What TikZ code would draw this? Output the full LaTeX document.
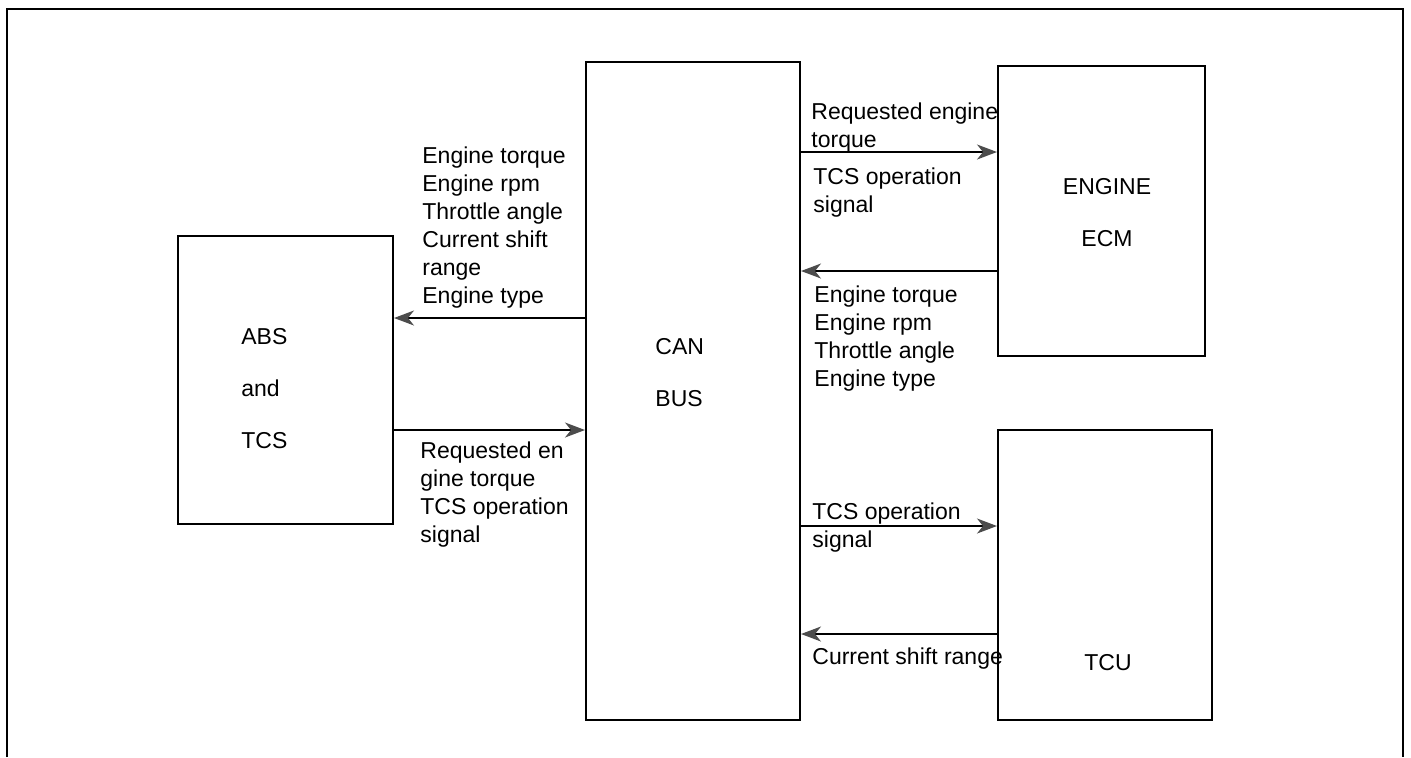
\documentclass[tikz,border=0pt]{standalone}
\usepackage{fontspec}
\setmainfont{Liberation Sans}
\usetikzlibrary{arrows.meta,positioning}
\tikzset{
  ecu/.style  = {rectangle, draw=black, line width=1pt, fill=white,
                 inner sep=0pt},
  sig/.style  = {-{Stealth[length=10pt,width=7.5pt,inset=3pt,color=black!70]},
                 draw=black, line width=0.7pt},
  lbl/.style  = {font=\fontsize{11.5}{14}\selectfont, align=left,
                 anchor=north west, inner sep=0pt},
  ttl/.style  = {font=\fontsize{11.5}{26}\selectfont, inner sep=0pt},
}
\begin{document}
\begin{tikzpicture}[x=0.5pt,y=-0.5pt]
  \useasboundingbox (0,0) rectangle (1411,757);
  % --- frame
  \draw[line width=1.3pt] (7,757) -- (7,9) -- (1403,9) -- (1403,757);

  % --- units
  \node[ecu, minimum width=107.5pt, minimum height=144pt] (abs) at (285.5,380) {};
  \node[ecu, minimum width=107pt, minimum height=329pt] (can) at (693,391) {};
  \node[ecu, minimum width=103.5pt, minimum height=145pt] (ecm) at (1101.5,211) {};
  \node[ecu, minimum width=107pt, minimum height=145pt] (tcu) at (1105,575) {};

  \node[ttl, align=left, anchor=north west] (absname) at (241,328) {ABS\\and\\TCS};
  \node[ttl, align=left, anchor=north west] (canname) at (655,338) {CAN\\BUS};
  \node[ttl, align=center, anchor=north] (ecmname) at (1107,178) {ENGINE\\ECM};
  \node[ttl, anchor=north] (tcuname) at (1108,654) {TCU};

  % --- signals
  \draw[sig] (can.west |- 0,318) -- (abs.east |- 0,318);
  \draw[sig] (abs.east |- 0,430) -- (can.west |- 0,430);
  \draw[sig] (can.east |- 0,152) -- (ecm.west |- 0,152);
  \draw[sig] (ecm.west |- 0,271) -- (can.east |- 0,271);
  \draw[sig] (can.east |- 0,526) -- (tcu.west |- 0,526);
  \draw[sig] (tcu.west |- 0,634) -- (can.east |- 0,634);

  % --- signal lists
  \node[lbl] (toabs) at (422,146)
    {Engine torque\\Engine rpm\\Throttle angle\\Current shift\\range\\Engine type};
  \node[lbl] (fromabs) at (420,441)
    {Requested en\\gine torque\\TCS operation\\signal};
  \node[lbl] (toecmA) at (811,102) {Requested engine\\torque};
  \node[lbl] (toecmB) at (813,167) {TCS operation\\signal};
  \node[lbl] (fromecm) at (814,285)
    {Engine torque\\Engine rpm\\Throttle angle\\Engine type};
  \node[lbl] (totcu) at (812,502) {TCS operation\\signal};
  \node[lbl] (fromtcu) at (812,647) {Current shift range};
\end{tikzpicture}
\end{document}
